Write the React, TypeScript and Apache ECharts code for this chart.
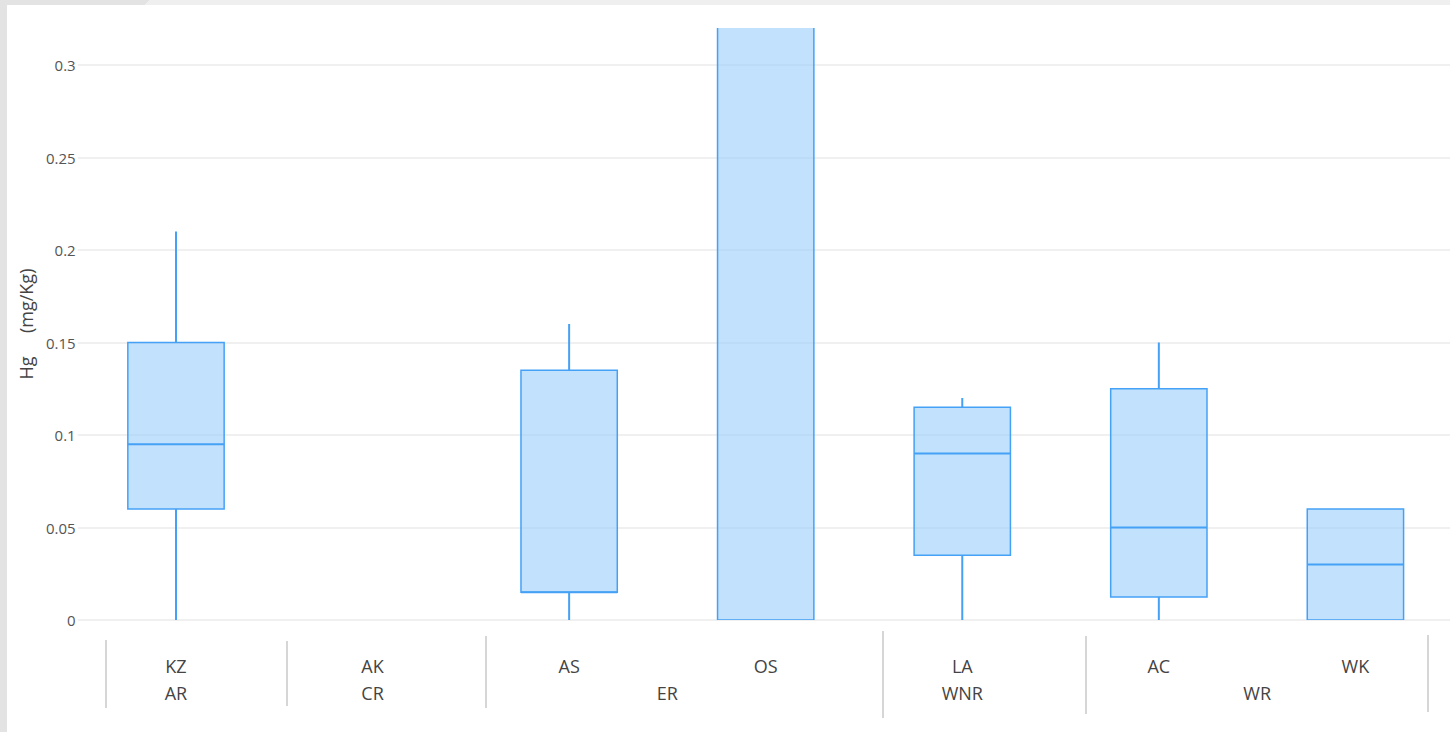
import React, { useEffect, useRef } from "react";
import * as echarts from "echarts";

const categories = ["KZ", "AK", "AS", "OS", "LA", "AC", "WK"];
const groups = ["AR", "CR", "ER", "ER", "WNR", "WR", "WR"];
const yTicks = [0, 0.05, 0.1, 0.15, 0.2, 0.25, 0.3];
// box statistics (null = no data)
const boxMin: (number | null)[] = [0, null, 0, 0, 0, 0, 0];
const boxQ1: (number | null)[] = [0.06, null, 0.015, 0, 0.035, 0.0125, 0];
const boxMedian: (number | null)[] = [0.095, null, 0.015, 0.36, 0.09, 0.05, 0.03];
const boxQ3: (number | null)[] = [0.15, null, 0.135, 0.45, 0.115, 0.125, 0.06];
const boxMax: (number | null)[] = [0.21, null, 0.16, 0.6, 0.12, 0.15, 0.06];

const FILL = "rgba(150, 203, 250, 0.58)";
const STROKE = "#45a1f6";
const FONT = "Open Sans";

function buildGroupLabels(): string[] {
  const out: string[] = new Array(categories.length * 2 + 1).fill("");
  let i = 0;
  while (i < groups.length) {
    let j = i;
    while (j + 1 < groups.length && groups[j + 1] === groups[i]) j++;
    const k = Math.round(((2 * i + 1) + (2 * j + 1)) / 2);
    out[k] = groups[i];
    i = j + 1;
  }
  return out;
}

export default function App() {
  const ref = useRef<HTMLDivElement>(null);
  useEffect(() => {
    if (!ref.current) return;
    const chart = echarts.init(ref.current, null, { renderer: "svg" });
    const data = categories
      .map((c, i) =>
        boxQ1[i] == null
          ? null
          : [i, boxMin[i], boxQ1[i], boxMedian[i], boxQ3[i], boxMax[i]]
      )
      .filter((d) => d !== null);

    const dividerLines = [
      [106, 640, 708],
      [287, 641, 706],
      [486, 636, 708],
      [883, 631, 718],
      [1086, 636, 714],
      [1428, 635, 712],
    ].map(([x, y1, y2]) => ({
      type: "line",
      shape: { x1: x, y1, x2: x, y2 },
      style: { stroke: "#c9c9c9", lineWidth: 1.5 },
      silent: true,
    }));

    chart.setOption({
      animation: false,
      backgroundColor: "#ffffff",
      grid: { left: 77.7, top: 28, width: 1376, height: 592 },
      xAxis: [
        {
          type: "category",
          data: categories,
          axisLine: { show: false },
          axisTick: { show: false },
          splitLine: { show: false },
          axisLabel: {
            interval: 0,
            margin: 37,
            fontSize: 18,
            fontFamily: FONT,
            color: "#444",
          },
        },
        {
          type: "category",
          data: buildGroupLabels(),
          boundaryGap: false,
          position: "bottom",
          axisLine: { show: false },
          axisTick: { show: false },
          splitLine: { show: false },
          axisLabel: {
            interval: 0,
            margin: 64,
            fontSize: 18,
            fontFamily: FONT,
            color: "#444",
          },
        },
      ],
      yAxis: {
        type: "value",
        min: 0,
        max: 0.32,
        interval: 0.05,
        name: "Hg     (mg/Kg)",
        nameLocation: "middle",
        nameGap: 37,
        nameTextStyle: { fontSize: 18, fontFamily: FONT, color: "#444" },
        axisLine: { show: false },
        axisTick: { show: false },
        axisLabel: {
          fontSize: 15,
          fontFamily: FONT,
          color: "#555",
          margin: 2,
          showMaxLabel: false,
          formatter: (v: number) =>
            yTicks.some((t) => Math.abs(t - v) < 1e-9) ? String(+v.toFixed(3)) : "",
        },
        splitLine: {
          show: true,
          showMaxLine: false,
          lineStyle: { color: "#ebebeb", width: 1.5 },
        },
      },
      graphic: [
        {
          type: "rect",
          shape: { x: 0, y: 0, width: 7, height: 732 },
          style: { fill: "#e3e3e3" },
          silent: true,
        },
        {
          type: "polygon",
          shape: { points: [[0, 0], [150, 0], [145, 5], [0, 5]] },
          style: { fill: "#e3e3e3" },
          silent: true,
        },
        {
          type: "polygon",
          shape: { points: [[150, 0], [1460, 0], [1460, 5], [145, 5]] },
          style: { fill: "#efefef" },
          silent: true,
        },
        ...dividerLines,
      ],
      series: [
        {
          type: "custom",
          clip: true,
          xAxisIndex: 0,
          encode: { x: 0, y: [1, 2, 3, 4, 5] },
          data,
          renderItem: (params: any, api: any) => {
            const x = api.value(0);
            const mn = api.value(1);
            const q1 = api.value(2);
            const med = api.value(3);
            const q3 = api.value(4);
            const mx = api.value(5);
            const pMin = api.coord([x, mn]);
            const pQ1 = api.coord([x, q1]);
            const pMed = api.coord([x, med]);
            const pQ3 = api.coord([x, q3]);
            const pMax = api.coord([x, mx]);
            const bw = api.size([1, 0])[0] * 0.49;
            const cx = pQ1[0];
            const left = cx - bw / 2;
            const children: any[] = [
              {
                type: "rect",
                shape: { x: left, y: pQ3[1], width: bw, height: pQ1[1] - pQ3[1] },
                style: { fill: FILL, stroke: STROKE, lineWidth: 1.5 },
              },
              {
                type: "line",
                shape: { x1: left, y1: pMed[1], x2: left + bw, y2: pMed[1] },
                style: { stroke: STROKE, lineWidth: 2 },
              },
            ];
            if (pMin[1] - pQ1[1] > 0.5) {
              children.push({
                type: "line",
                shape: { x1: cx, y1: pQ1[1], x2: cx, y2: pMin[1] },
                style: { stroke: STROKE, lineWidth: 2 },
              });
            }
            if (pQ3[1] - pMax[1] > 0.5) {
              children.push({
                type: "line",
                shape: { x1: cx, y1: pMax[1], x2: cx, y2: pQ3[1] },
                style: { stroke: STROKE, lineWidth: 2 },
              });
            }
            return { type: "group", children };
          },
        },
      ],
    });
    return () => chart.dispose();
  }, []);
  return (
    <div
      style={{
        position: "fixed",
        left: 0,
        top: 0,
        width: 1450,
        height: 732,
        overflow: "hidden",
        background: "#fff",
      }}
    >
      <div ref={ref} style={{ width: 1460, height: 732 }} />
    </div>
  );
}
